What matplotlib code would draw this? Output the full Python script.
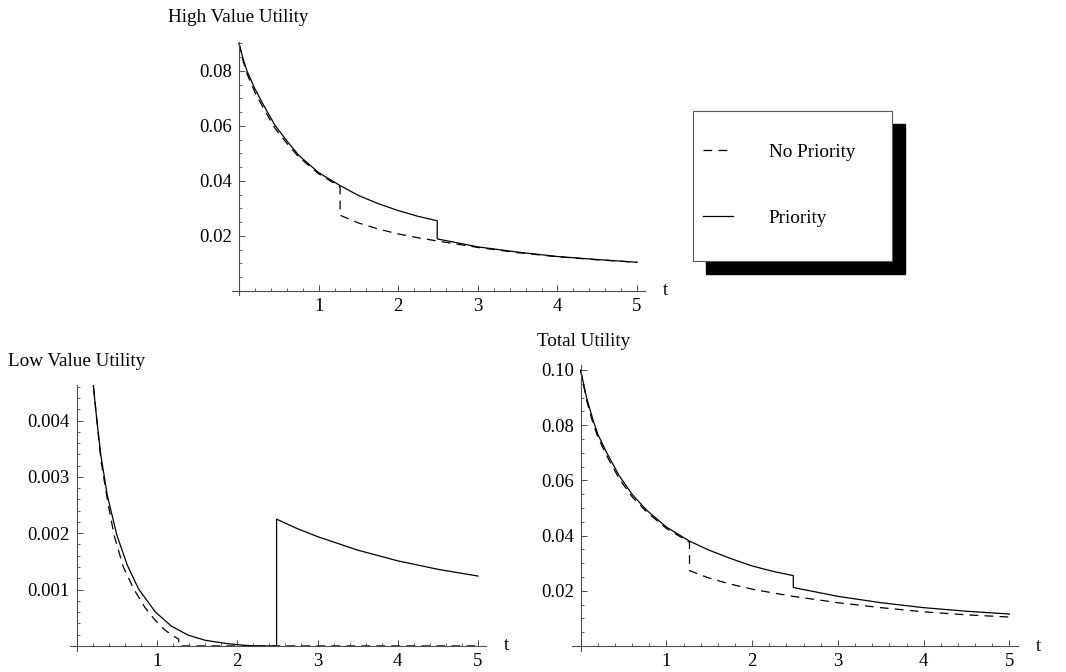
import matplotlib
matplotlib.use("Agg")
from matplotlib import pyplot as plt
from matplotlib.patches import Rectangle
from matplotlib.ticker import MultipleLocator, FixedLocator, FixedFormatter

# ---- data ----
# high value utility
t_high_prio = [0, 0.05, 0.1, 0.2, 0.3, 0.45, 0.6, 0.75, 1.0, 1.27, 1.5, 1.75, 2.0, 2.25, 2.49,
               2.49, 3.0, 3.5, 4.0, 4.5, 5.0]
v_high_prio = [0.090, 0.0845, 0.0800, 0.0735, 0.0680, 0.0603, 0.0546, 0.0493, 0.0430, 0.0383, 0.0347,
               0.0317, 0.0292, 0.0271, 0.0255,
               0.0189, 0.0160, 0.0141, 0.0125, 0.0114, 0.0104]
t_high_none = [0, 0.05, 0.1, 0.2, 0.3, 0.45, 0.6, 0.75, 1.0, 1.27,
               1.27, 1.5, 1.75, 2.0, 2.25, 2.5, 3.0, 3.5, 4.0, 4.5, 5.0]
v_high_none = [0.090, 0.0838, 0.0790, 0.0722, 0.0668, 0.0592, 0.0537, 0.0487, 0.0426, 0.0378,
               0.0275, 0.0247, 0.0225, 0.0207, 0.0193, 0.0181, 0.0158, 0.0139, 0.0124, 0.0113, 0.0104]

# low value utility
t_low_prio = [0.19, 0.21, 0.25, 0.30, 0.38, 0.5, 0.63, 0.77, 0.98, 1.18, 1.39, 1.6, 1.88, 2.1, 2.3, 2.49,
              2.49, 2.75, 3.0, 3.5, 4.0, 4.5, 5.0]
v_low_prio = [0.00486, 0.00456, 0.0040, 0.00338, 0.00267, 0.00196, 0.00143, 0.00101, 0.00060, 0.00035,
              0.00019, 0.00010, 0.00004, 0.00001, 0.0, 0.0,
              0.00225, 0.00208, 0.00194, 0.00170, 0.00151, 0.00136, 0.00124]
t_low_none = [0.19, 0.21, 0.30, 0.38, 0.465, 0.58, 0.71, 0.85, 0.98, 1.1, 1.2, 1.27, 1.27, 2.5, 5.0]
v_low_none = [0.00486, 0.00456, 0.0033, 0.0026, 0.00196, 0.0014, 0.00101, 0.00068, 0.00045, 0.00028,
              0.00018, 0.00012, 0.0, 0.0, 0.0]

# total utility
t_tot_prio = [0, 0.07, 0.144, 0.2, 0.3, 0.45, 0.6, 0.77, 1.0, 1.27, 1.5, 1.75, 2.0, 2.25, 2.48,
              2.48, 3.0, 3.5, 4.0, 4.5, 5.0]
v_tot_prio = [0.100, 0.090, 0.0820, 0.0768, 0.0703, 0.0617, 0.0550, 0.0492, 0.0431, 0.0380, 0.0347,
              0.0317, 0.0290, 0.0270, 0.0255,
              0.0212, 0.0180, 0.0157, 0.0139, 0.0126, 0.0116]
t_tot_none = [0, 0.07, 0.144, 0.2, 0.3, 0.45, 0.6, 0.77, 1.0, 1.27,
              1.27, 1.5, 1.75, 2.0, 2.25, 2.5, 3.0, 3.5, 4.0, 4.5, 5.0]
v_tot_none = [0.100, 0.0890, 0.0808, 0.0758, 0.0692, 0.0606, 0.0541, 0.0486, 0.0426, 0.0376,
              0.0273, 0.0246, 0.0224, 0.0206, 0.0192, 0.0179, 0.0157, 0.0139, 0.0124, 0.0113, 0.0105]

x_ticks = [1, 2, 3, 4, 5]
high_yticks = [0.02, 0.04, 0.06, 0.08]
low_yticks = [0.001, 0.002, 0.003, 0.004]
tot_yticks = [0.02, 0.04, 0.06, 0.08, 0.10]
legend_labels = ["No Priority", "Priority"]

plt.rcParams["font.family"] = ["Liberation Serif", "DejaVu Serif"]
plt.rcParams["font.size"] = 13.5

W, H = 1066, 672
fig = plt.figure(figsize=(W / 100, H / 100), dpi=100)
AX_COLOR = "0.3"
DASH = (7, 5)


def px_axes(left, top, right, bottom):
    return fig.add_axes([left / W, 1 - bottom / H, (right - left) / W, (bottom - top) / H])


def style_axes(ax, xlim, ylim, yticks, yfmt, yminor, title, title_xy):
    ax.set_xlim(*xlim)
    ax.set_ylim(*ylim)
    for side in ["top", "right"]:
        ax.spines[side].set_visible(False)
    for side in ["left", "bottom"]:
        ax.spines[side].set_position(("data", 0))
        ax.spines[side].set_color(AX_COLOR)
        ax.spines[side].set_linewidth(0.8)
    ax.xaxis.set_major_locator(FixedLocator(x_ticks))
    ax.xaxis.set_major_formatter(FixedFormatter([str(x) for x in x_ticks]))
    ax.xaxis.set_minor_locator(MultipleLocator(0.2))
    ax.yaxis.set_major_locator(FixedLocator(yticks))
    ax.yaxis.set_major_formatter(FixedFormatter([yfmt.format(y) for y in yticks]))
    ax.yaxis.set_minor_locator(MultipleLocator(yminor))
    ax.tick_params(which="major", direction="in", length=4, width=0.7, color=AX_COLOR, pad=5)
    ax.tick_params(which="minor", direction="in", length=2.3, width=0.6, color=AX_COLOR)
    ax.patch.set_visible(False)
    ax.annotate("t", xy=(1, 0), xycoords=("axes fraction", "data"), xytext=(20, 0),
                textcoords="offset pixels", ha="center", va="center")
    fig.text(title_xy[0] / W, 1 - title_xy[1] / H, title, ha="left", va="center", fontsize=13.8)


ax_high = px_axes(232, 42, 645, 295)
l_none, = ax_high.plot(t_high_none, v_high_none, color="black", lw=0.9, dashes=DASH)
l_prio, = ax_high.plot(t_high_prio, v_high_prio, color="black", lw=0.9)
style_axes(ax_high, (-0.088, 5.1), (-0.0015, 0.0905), high_yticks, "{:.2f}", 0.005,
           "High Value Utility", (168, 17))

ax_low = px_axes(70, 385, 486, 651)
ax_low.plot(t_low_none, v_low_none, color="black", lw=0.9, dashes=DASH)
ax_low.plot(t_low_prio, v_low_prio, color="black", lw=0.9)
style_axes(ax_low, (-0.085, 5.1), (-0.00009, 0.00463), low_yticks, "{:.3f}", 0.0002,
           "Low Value Utility", (8, 362))

ax_tot = px_axes(572, 365, 1018, 651)
ax_tot.plot(t_tot_none, v_tot_none, color="black", lw=0.9, dashes=DASH)
ax_tot.plot(t_tot_prio, v_tot_prio, color="black", lw=0.9)
style_axes(ax_tot, (-0.1, 5.1), (-0.0018, 0.1018), tot_yticks, "{:.2f}", 0.005,
           "Total Utility", (537, 342))

# legend box with hard black shadow
bx0, by0, bx1, by1 = 693, 111, 892, 261
fig.patches.append(Rectangle(((bx0 + 13) / W, 1 - (by1 + 13) / H), (bx1 - bx0) / W, (by1 - by0) / H,
                             transform=fig.transFigure, facecolor="black", edgecolor="black", zorder=1))
fig.patches.append(Rectangle((bx0 / W, 1 - by1 / H), (bx1 - bx0) / W, (by1 - by0) / H,
                             transform=fig.transFigure, facecolor="white", edgecolor="0.35", lw=0.8, zorder=2))
fig.legend([l_none, l_prio], legend_labels, loc="center", bbox_to_anchor=(779 / W, 1 - 185 / H),
           frameon=False, handlelength=1.57, handletextpad=1.88, labelspacing=2.55, fontsize=13.8)

fig.savefig("out.png", dpi=100)
